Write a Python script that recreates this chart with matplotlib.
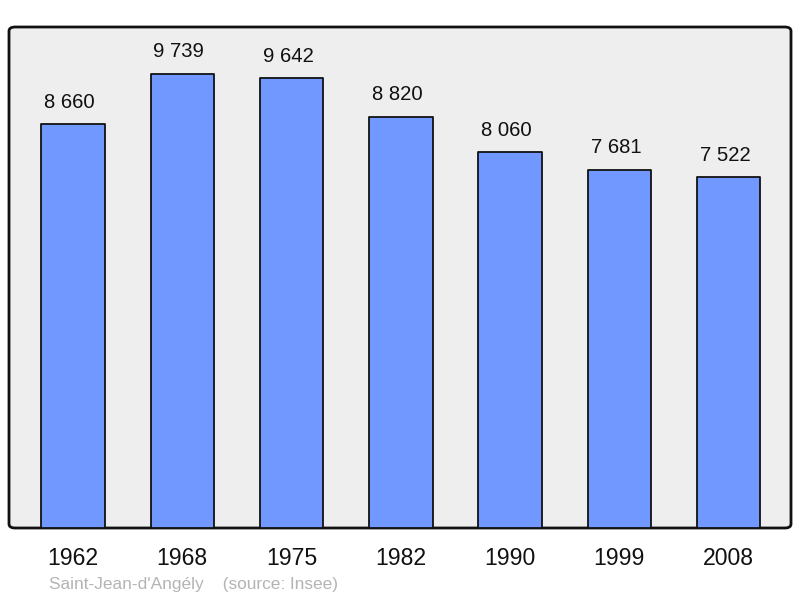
import matplotlib
matplotlib.use("Agg")
import matplotlib.pyplot as plt
from matplotlib.patches import FancyBboxPatch

plt.rcParams["font.family"] = ["Liberation Sans", "DejaVu Sans"]

years = ["1962", "1968", "1975", "1982", "1990", "1999", "2008"]
population = [8660, 9739, 9642, 8820, 8060, 7681, 7522]
labels = ["8 660", "9 739", "9 642", "8 820", "8 060", "7 681", "7 522"]

fig = plt.figure(figsize=(8, 5.98), dpi=100)
ax = fig.add_axes([9 / 800, 70 / 598, 782 / 800, 501 / 598])
ax.set_facecolor("none")

# rounded background frame
frame = FancyBboxPatch((0, 0), 1, 1, boxstyle="round,pad=0,rounding_size=0.008",
                       transform=ax.transAxes, facecolor="#eeeeee",
                       edgecolor="#111111", linewidth=2, zorder=0, clip_on=False)
ax.add_patch(frame)

x = range(len(years))
bars = ax.bar(x, population, width=0.58, color="#7198ff", edgecolor="#111111",
              linewidth=1.3, zorder=2)
for b in bars:
    b.set_joinstyle("round")

for xi, v, lab in zip(x, population, labels):
    ax.annotate(lab, (xi, v), xytext=(-2.5, 9), textcoords="offset points",
                ha="center", va="bottom", fontsize=14.6, color="#111111")

ax.set_xlim(-0.585, 6.57)
ax.set_ylim(0, 10740)
ax.set_xticks(list(x))
ax.set_xticklabels(years, fontsize=16.6, color="#111111")
ax.tick_params(axis="x", length=0, pad=14)
ax.set_yticks([])
for s in ax.spines.values():
    s.set_visible(False)

fig.text(49 / 800, 1 - 584 / 598, "Saint-Jean-d'Angély    (source: Insee)",
         fontsize=12.4, color="#b4b4b4", ha="left", va="center")

fig.savefig("out.png", dpi=100)
